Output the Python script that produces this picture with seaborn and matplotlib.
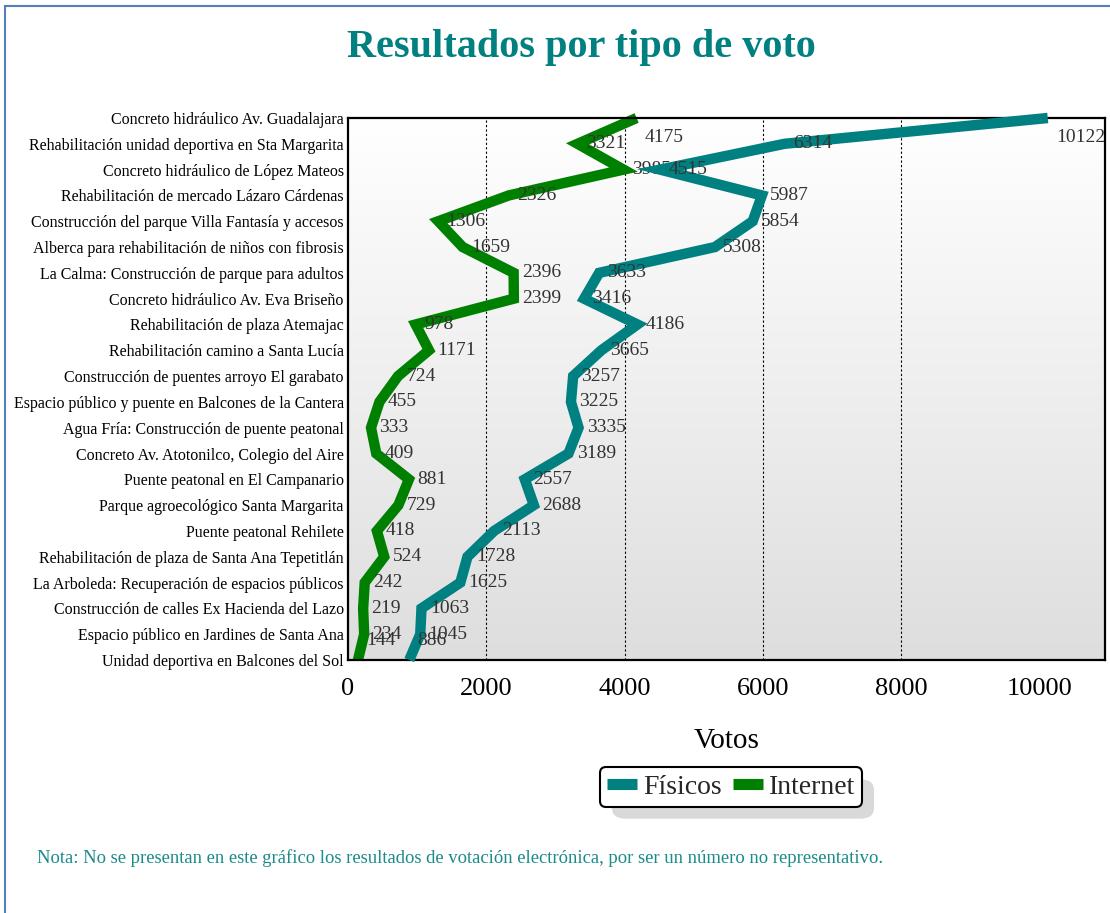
import numpy as np
import pandas as pd
import matplotlib
matplotlib.use("Agg")
import matplotlib.pyplot as plt
import seaborn as sns
from matplotlib.patches import Rectangle, FancyBboxPatch
from matplotlib.lines import Line2D
from matplotlib.colors import LinearSegmentedColormap

proyectos = [
    "Concreto hidráulico Av. Guadalajara",
    "Rehabilitación unidad deportiva en Sta Margarita",
    "Concreto hidráulico de López Mateos",
    "Rehabilitación de mercado Lázaro Cárdenas",
    "Construcción del parque Villa Fantasía y accesos",
    "Alberca para rehabilitación de niños con fibrosis",
    "La Calma: Construcción de parque para adultos",
    "Concreto hidráulico Av. Eva Briseño",
    "Rehabilitación de plaza Atemajac",
    "Rehabilitación camino a Santa Lucía",
    "Construcción de puentes arroyo El garabato",
    "Espacio público y puente en Balcones de la Cantera",
    "Agua Fría: Construcción de puente peatonal",
    "Concreto Av. Atotonilco, Colegio del Aire",
    "Puente peatonal en El Campanario",
    "Parque agroecológico Santa Margarita",
    "Puente peatonal Rehilete",
    "Rehabilitación de plaza de Santa Ana Tepetitlán",
    "La Arboleda: Recuperación de espacios públicos",
    "Construcción de calles Ex Hacienda del Lazo",
    "Espacio público en Jardines de Santa Ana",
    "Unidad deportiva en Balcones del Sol",
]
fisicos = [10122, 6314, 4515, 5987, 5854, 5308, 3633, 3416, 4186, 3665, 3257,
           3225, 3335, 3189, 2557, 2688, 2113, 1728, 1625, 1063, 1045, 886]
internet = [4175, 3321, 3985, 2326, 1306, 1659, 2396, 2399, 978, 1171, 724,
            455, 333, 409, 881, 729, 418, 524, 242, 219, 234, 144]
x_ticks = [0, 2000, 4000, 6000, 8000, 10000]

C_FIS = "#008080"
C_INT = "#008000"

sns.set_theme(style="white")
plt.rcParams['font.family'] = ['Liberation Serif', 'DejaVu Serif']

W, H = 1110, 913
fig = plt.figure(figsize=(W / 100, H / 100), dpi=100)
fig.patch.set_facecolor("white")
ax = fig.add_axes([348 / W, 1 - 660 / H, (1105 - 348) / W, (660 - 118) / H])

n = len(proyectos)
pos = np.arange(n)
XMAX = 10950

df_f = pd.DataFrame({"pos": pos, "Votos": fisicos})
df_i = pd.DataFrame({"pos": pos, "Votos": internet})

# gradient background
cmap = LinearSegmentedColormap.from_list("bg", ["#ffffff", "#dedede"])
ax.imshow(np.linspace(0, 1, 256).reshape(-1, 1), cmap=cmap, aspect="auto",
          extent=[0, XMAX, n - 1, 0], zorder=0)

sns.lineplot(data=df_i, x="Votos", y="pos", orient="y", sort=False, color=C_INT,
             linewidth=7.5, ax=ax, clip_on=False, zorder=2,
             solid_joinstyle="miter", solid_capstyle="butt")
sns.lineplot(data=df_f, x="Votos", y="pos", orient="y", sort=False, color=C_FIS,
             linewidth=7.5, ax=ax, clip_on=False, zorder=3,
             solid_joinstyle="miter", solid_capstyle="butt")

def voff(i):
    if i == 0:
        return -14
    if i == n - 1:
        return 14
    return 0

for i, v in enumerate(internet):
    ax.annotate(str(v), (v, i), xytext=(6, voff(i)), textcoords="offset points",
                ha="left", va="center", fontsize=14, color="#333333",
                zorder=2.5, annotation_clip=False)
for i, v in enumerate(fisicos):
    ax.annotate(str(v), (v, i), xytext=(6, voff(i)), textcoords="offset points",
                ha="left", va="center", fontsize=14, color="#333333",
                zorder=3.5, annotation_clip=False)

ax.set_xlim(0, XMAX)
ax.set_ylim(n - 1, 0)
ax.set_xticks(x_ticks)
ax.set_xticklabels([str(t) for t in x_ticks], fontsize=19)
ax.set_yticks(pos)
ax.set_yticklabels(proyectos, fontsize=11.5)
ax.tick_params(axis="y", length=0, pad=3, colors="black")
ax.tick_params(axis="x", length=0, pad=13, colors="black")
ax.set_ylabel("")
ax.set_xlabel("Votos", fontsize=21, labelpad=20, color="black")

ax.set_axisbelow(True)
ax.grid(False)
for t in x_ticks[1:-1]:
    ax.axvline(t, color="black", linestyle=(0, (2, 2)), linewidth=0.8, zorder=1)
for s in ax.spines.values():
    s.set_visible(True)
    s.set_color("black")
    s.set_linewidth(1.6)

# title and note
fig.text(581 / W, 1 - 48 / H, "Resultados por tipo de voto", ha="center", va="center",
         fontsize=29, fontweight="bold", color=C_FIS)
fig.text(37 / W, 1 - 858 / H,
         "Nota: No se presentan en este gráfico los resultados de votación electrónica, por ser un número no representativo.",
         ha="left", va="center", fontsize=13.4, color="#1a8a8a")

# legend
handles = [Line2D([0], [0], color=C_FIS, lw=8, solid_capstyle="butt"),
           Line2D([0], [0], color=C_INT, lw=8, solid_capstyle="butt")]
leg = fig.legend(handles, ["Físicos", "Internet"], loc="center",
                 bbox_to_anchor=(731 / W, 1 - 787 / H), ncol=2, fontsize=20,
                 frameon=True, fancybox=True, edgecolor="black", framealpha=1,
                 handlelength=1.1, handletextpad=0.2, columnspacing=0.4,
                 borderpad=0.25, borderaxespad=0)
leg.get_frame().set_linewidth(1.5)
leg.set_zorder(5)

fig.canvas.draw()
bb = leg.get_window_extent().transformed(fig.transFigure.inverted())
sh = FancyBboxPatch((bb.x0 + 12 / W, bb.y0 - 12 / H), bb.width, bb.height,
                    boxstyle="round,pad=0,rounding_size=0.012",
                    transform=fig.transFigure, facecolor="#d9d9d9",
                    edgecolor="none", zorder=4)
fig.patches.append(sh)

# outer frame
fig.patches.append(Rectangle((5 / W, -0.1), 1.2, (H - 6) / H + 0.1,
                             transform=fig.transFigure, fill=False,
                             edgecolor="#4f81bd", linewidth=1.5, zorder=10))

fig.savefig("out.png", dpi=100)
